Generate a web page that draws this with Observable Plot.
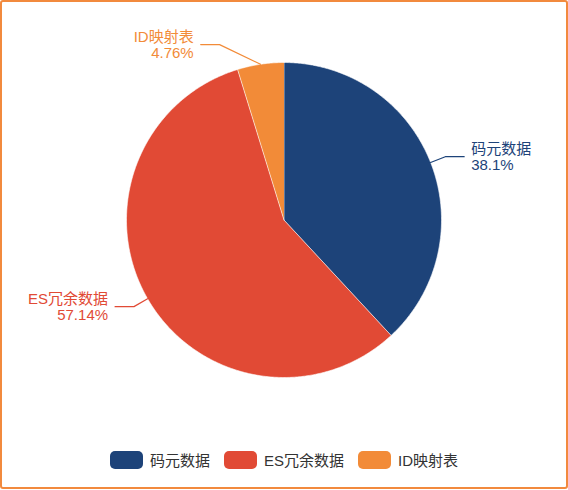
<!DOCTYPE html>
<html>
<head>
<meta charset="utf-8">
<script src="https://cdn.jsdelivr.net/npm/d3@7"></script>
<script src="https://cdn.jsdelivr.net/npm/@observablehq/plot@0.6"></script>
<style>
  html, body { margin: 0; padding: 0; background: #fff; }
  #wrap { position: relative; width: 568px; height: 490px; overflow: hidden;
          font-family: "Liberation Sans", Arial, "Noto Sans CJK SC", sans-serif; }
  #frame { position: absolute; left: 0; top: 0; width: 568px; height: 489px;
           box-sizing: border-box; border: 2px solid #f28a3e; border-radius: 3px; pointer-events: none; }
  #chart { position: absolute; left: 0; top: 0; }
  #legend { position: absolute; left: 0; top: 449px; width: 568px; display: flex;
            justify-content: center; align-items: center; font-size: 15px; color: #333; }
  .item { display: flex; align-items: center; margin: 0 7px; }
  .sw { width: 33px; height: 18px; border-radius: 5px; margin-right: 7px; }
</style>
</head>
<body>
<div id="wrap">
  <div id="chart"></div>
  <div id="legend"></div>
  <div id="frame"></div>
</div>
<script>
// ---- data ----
const categories = ["码元数据", "ES冗余数据", "ID映射表"];
const values = [8, 12, 1];
const colors = ["#1d4379", "#e14a35", "#f28b38"];

// ---- layout config (unit-circle coordinates) ----
const elbowRadius = 1.1;      // leader line knee
const hLen = 0.12;            // horizontal leader segment
const elbowShift = { "ID映射表": [-0.245, 0.026] }; // label pushed aside (avoid overlap)

const total = d3.sum(values);
const pie = d3.pie().sort(null).value(d => d.value).startAngle(0).endAngle(2 * Math.PI);
const arcs = pie(categories.map((c, i) => ({ cat: c, value: values[i] })));

const fmt = v => String(parseFloat((v / total * 100).toFixed(2))) + "%";
const pt = (a, r) => [r * Math.sin(a), r * Math.cos(a)];

// slice polygons
const slicePts = [];
for (const a of arcs) {
  slicePts.push({ cat: a.data.cat, x: 0, y: 0 });
  const n = Math.max(2, Math.ceil((a.endAngle - a.startAngle) / (Math.PI / 360)));
  for (let k = 0; k <= n; k++) {
    const ang = a.startAngle + (a.endAngle - a.startAngle) * k / n;
    const [x, y] = pt(ang, 1);
    slicePts.push({ cat: a.data.cat, x, y });
  }
}

// leader lines and labels
const leaderPts = [];
const labels = [];
for (const a of arcs) {
  const mid = (a.startAngle + a.endAngle) / 2;
  const [x0, y0] = pt(mid, 1);
  let [x1, y1] = pt(mid, elbowRadius);
  const sh = elbowShift[a.data.cat];
  if (sh) { x1 += sh[0]; y1 += sh[1]; }
  const right = x0 >= 0;
  const x2 = x1 + (right ? hLen : -hLen);
  leaderPts.push({ cat: a.data.cat, x: x0, y: y0 }, { cat: a.data.cat, x: x1, y: y1 }, { cat: a.data.cat, x: x2, y: y1 });
  labels.push({ cat: a.data.cat, x: x2, y: y1, right, text: a.data.cat + "\n" + fmt(a.data.value) });
}

const plot = Plot.plot({
  width: 568,
  height: 445,
  margin: 0,
  style: { fontFamily: '"Liberation Sans", Arial, "Noto Sans CJK SC", sans-serif', background: "transparent" },
  x: { domain: [-1, 1], range: [126, 441], axis: null },
  y: { domain: [-1, 1], range: [377, 62], axis: null },
  color: { domain: categories, range: colors },
  marks: [
    Plot.line(slicePts, { x: "x", y: "y", z: "cat", fill: "cat", stroke: "#fff", strokeWidth: 0.6, curve: "linear" }),
    Plot.line(leaderPts, { x: "x", y: "y", z: "cat", stroke: "cat", strokeWidth: 1.2, curve: "linear" }),
    Plot.text(labels.filter(d => d.right), { x: "x", y: "y", text: "text", fill: "cat", textAnchor: "start", dx: 7, fontSize: 15, lineHeight: 1.12 }),
    Plot.text(labels.filter(d => !d.right), { x: "x", y: "y", text: "text", fill: "cat", textAnchor: "end", dx: -7, fontSize: 15, lineHeight: 1.12 })
  ]
});
document.getElementById("chart").appendChild(plot);

// legend
const legend = document.getElementById("legend");
categories.forEach((c, i) => {
  const it = document.createElement("div");
  it.className = "item";
  const sw = document.createElement("div");
  sw.className = "sw";
  sw.style.background = colors[i];
  const t = document.createElement("span");
  t.textContent = c;
  it.appendChild(sw); it.appendChild(t);
  legend.appendChild(it);
});
</script>
</body>
</html>
